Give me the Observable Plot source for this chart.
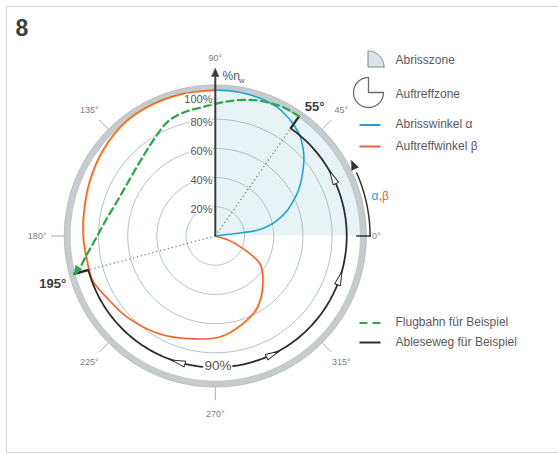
<!DOCTYPE html>
<html><head><meta charset="utf-8">
<script src="https://cdn.jsdelivr.net/npm/d3@7"></script>
<script src="https://cdn.jsdelivr.net/npm/@observablehq/plot@0.6"></script>
<style>
html,body{margin:0;padding:0;background:#fff;overflow:hidden}
#wrap{position:relative;width:558px;height:454px}
#frame{position:absolute;left:6px;top:6px;width:640px;height:445px;border:1px solid #d3d3d3;pointer-events:none}
#chart{position:absolute;left:0;top:0}
</style></head><body><div id="wrap"><div id="frame"></div><div id="chart"></div></div>
<script>
// ---------- data ----------
const figureNumber = "8";
const tickAngles = [0, 45, 90, 135, 180, 225, 270, 315];
const tickLabels = ["0°", "45°", "90°", "135°", "180°", "225°", "270°", "315°"];
const gridPct = [20, 40, 60, 80];
const gridLabelPct = [20, 40, 60, 80, 100];
const gridLabels = ["20%", "40%", "60%", "80%", "100%"];
// Abrisswinkel α : angle (deg) vs %n
const alphaAngle = [0, 7, 7.6, 10.6, 15.8, 20, 24.4, 28, 31.6, 35.6, 39.5, 42.9, 46, 49.1, 53, 56.9, 60.5, 64.2, 68, 72, 75.9, 80, 85, 90];
const alphaPct   = [0, 14, 28.5, 37, 46.4, 53, 58.8, 64, 68.5, 73.5, 78.5, 82.7, 86, 89.2, 92, 94.4, 96.2, 97.8, 98.6, 99.2, 99.5, 99.8, 100, 100];
// Auftreffwinkel β : angle (deg) vs %n
const betaAngle = [345, 343, 336, 328, 315, 300, 287, 273, 258, 241, 223, 211, 200, 192, 180.5, 170, 156, 142, 128, 115, 103, 90];
const betaPct   = [0, 9, 20, 36, 46, 57, 63, 69, 72, 77, 82, 85, 89.5, 89.5, 90.5, 91.5, 94, 97, 99.5, 100, 100, 100];
// Flugbahn (example trajectory), cartesian in % units
const flightX = [57.4, 46.9, 29.1, 12.7, 1.5, -9.9, -21.6, -32.5, -42.1, -50.3, -57.9, -66.1, -74.3, -81.8, -88.7, -94.2, -96.6];
const flightY = [81.9, 88.0, 92.8, 92.8, 90.8, 88.0, 84.6, 78.4, 66.1, 53.1, 40.1, 25.7, 12.0, -1.7, -14.0, -24.3, -25.9];
// Example reading
const exampleN = 90, exampleAlpha = 55, exampleBeta = 195;
const exampleLabels = ["55°", "195°", "90%"];
const axisLabel = "%n", axisSub = "w";
const legendLabels = ["Abrisszone", "Auftreffzone", "Abrisswinkel α", "Auftreffwinkel β", "Flugbahn für Beispiel", "Ableseweg für Beispiel"];
const colors = {alpha: "#1fa3dc", beta: "#ef6237", flight: "#2da84c", path: "#2d2d2d", zone: "#e8f3f5"};

// ---------- geometry helpers ----------
const CX = 214.8, CY = 235.5, K = 1.46;          // pixel centre and px per %
const X = p => (p - CX) / K, Y = p => (CY - p) / K; // pixel -> data units
const rad = d => d * Math.PI / 180;
const pol = (a, p) => ({x: p * Math.cos(rad(a)), y: p * Math.sin(rad(a))});
const arc = (p, a0, a1, n = 160) => d3.range(n + 1).map(i => pol(a0 + (a1 - a0) * i / n, p));
const RING = 101.4;

const alphaData = alphaAngle.map((a, i) => pol(a, alphaPct[i]));
const betaData = betaAngle.map((a, i) => pol(a, betaPct[i]));
const flightData = flightX.map((x, i) => ({x, y: flightY[i]}));

const gridData = gridPct.flatMap(p => arc(p, 0, 360, 180).map(d => ({...d, p})));
const tickSegs = tickAngles.filter(a => a !== 0 && a !== 90).map(a => {
  const s = pol(a, RING + 2), e = pol(a, 112.5);
  return {x1: s.x, y1: s.y, x2: e.x, y2: e.y};
});
const tickText = tickAngles.map((a, i) => a === 0
  ? {...pol(0, 110.2), text: tickLabels[i], anchor: "start"}
  : {...pol(a, 122), text: tickLabels[i], anchor: "middle"});
const gridText = gridLabelPct.map((p, i) => ({x: X(212), y: p === 100 ? p - 6.5 : p - 2, text: gridLabels[i]}));

// reading path
const rightArc = arc(exampleN, exampleAlpha, -82.3, 160);
const leftArc = arc(exampleN, exampleBeta, 264.4, 80);
const radialSegs = [exampleAlpha, exampleBeta].map(a => {
  const s = pol(a, exampleN), e = pol(a, 100.6);
  return {x1: s.x, y1: s.y, x2: e.x, y2: e.y};
});
const dotted = [exampleAlpha, exampleBeta].map(a => { const e = pol(a, exampleN); return {x1: 0, y1: 0, x2: e.x, y2: e.y}; });
const arrowAnglesCCW = [26.6, -18.7, -64];
const arrowAnglesCW = [253.6];
const arcArrows = [
  ...arrowAnglesCCW.map(a => ({...pol(a, exampleN), rot: -a})),
  ...arrowAnglesCW.map(a => ({...pol(a, exampleN), rot: 180 - a}))
];
// flight arrow at the end
const fl = flightData.length;
const fdx = flightData[fl - 1].x - flightData[fl - 3].x, fdy = flightData[fl - 1].y - flightData[fl - 3].y;
const flightHead = [{...flightData[fl - 1], rot: 90 - Math.atan2(fdy, fdx) * 180 / Math.PI}];

// alpha/beta direction arrow
const abR = 106;
const abArc = arc(abR, 0, 24, 40);
const abHead = [{...pol(29, abR + 0.5), rot: -26}];
const zeroTick = (() => { const s = pol(0, 96.5), e = pol(0, abR + 0.6); return [{x1: s.x, y1: s.y, x2: e.x, y2: e.y}]; })();

const openHead = {draw(c, l, r) { c.moveTo(0, -l); c.lineTo(r, 0); c.lineTo(-r, 0); c.closePath(); }};
const solidHead = {draw(c, l, r) { c.moveTo(0, -l); c.lineTo(r, 0); c.lineTo(-r, 0); c.closePath(); }};

// legend geometry (pixel based)
const legX = 395;
const abrIcon = d3.range(0, 91, 3).map(a => ({x: X(368) + 16 / K * Math.cos(rad(a)), y: Y(67) + 16 / K * Math.sin(rad(a)), base: Y(67)}));
const aufC = {x: X(368), y: Y(92)}, aufR = 15 / K;
const aufIcon = [{x: aufC.x, y: aufC.y + aufR}, {x: aufC.x, y: aufC.y},
  ...d3.range(0, -271, -5).map(a => ({x: aufC.x + aufR * Math.cos(rad(a)), y: aufC.y + aufR * Math.sin(rad(a))}))];
const legTextY = [60, 93.5, 123.5, 146, 322, 342];
const legText = legendLabels.map((t, i) => ({x: X(legX), y: Y(legTextY[i]), text: t}));
const legLine = (py) => [{x1: X(359), x2: X(380), y1: Y(py), y2: Y(py)}];

const font = "'Liberation Sans', Arial, Helvetica, sans-serif";

const chart = Plot.plot({
  width: 558, height: 454, margin: 0,
  x: {domain: [X(0), X(558)], axis: null},
  y: {domain: [Y(454), Y(0)], axis: null},
  style: {fontFamily: font, background: "transparent", overflow: "visible"},
  marks: [
    // Abrisszone shading
    Plot.area(arc(RING, 0, 90, 90), {x1: "x", y1: () => 0, y2: "y", fill: colors.zone}),
    // grid circles
    Plot.line(gridData, {x: "x", y: "y", z: "p", stroke: "#a6bbbf", strokeWidth: 0.9}),
    // outer ring
    Plot.line(arc(RING, 0, 360, 240), {x: "x", y: "y", stroke: "#c6cbce", strokeWidth: 6}),
    Plot.line(arc(RING + 2.05, 0, 360, 240), {x: "x", y: "y", stroke: "#a9b0b4", strokeWidth: 0.7}),
    Plot.line(arc(RING - 2.05, 0, 360, 240), {x: "x", y: "y", stroke: "#b4babd", strokeWidth: 0.6}),
    // angle ticks
    Plot.link(tickSegs, {x1: "x1", y1: "y1", x2: "x2", y2: "y2", stroke: "#98a4a8", strokeWidth: 0.9}),
    // dotted guides
    Plot.link(dotted, {x1: "x1", y1: "y1", x2: "x2", y2: "y2", stroke: "#6f7f84", strokeWidth: 1.3, strokeDasharray: "1.2,2.8"}),
    // curves
    Plot.line(betaData, {x: "x", y: "y", stroke: "#f2c447", strokeWidth: 1.2, dx: 0.9, dy: 0.6, curve: "catmull-rom"}),
    Plot.line(betaData, {x: "x", y: "y", stroke: colors.beta, strokeWidth: 1.5, curve: "catmull-rom"}),
    Plot.line(alphaData, {x: "x", y: "y", stroke: colors.alpha, strokeWidth: 1.6, curve: "catmull-rom"}),
    // reading path
    Plot.line(rightArc, {x: "x", y: "y", stroke: colors.path, strokeWidth: 1.8}),
    Plot.line(leftArc, {x: "x", y: "y", stroke: colors.path, strokeWidth: 1.8}),
    Plot.link(radialSegs, {x1: "x1", y1: "y1", x2: "x2", y2: "y2", stroke: colors.path, strokeWidth: 2.4}),
    Plot.vector(arcArrows, {x: "x", y: "y", rotate: "rot", length: 14, r: 3, anchor: "middle", shape: openHead, fill: "white", stroke: colors.path, strokeWidth: 1}),
    // flight path
    Plot.line(flightData, {x: "x", y: "y", stroke: colors.flight, strokeWidth: 2.3, strokeDasharray: "7,4.5", curve: "catmull-rom"}),
    Plot.vector(flightHead, {x: "x", y: "y", rotate: "rot", length: 8, r: 3.6, anchor: "end", shape: solidHead, fill: colors.flight, stroke: colors.flight, strokeWidth: 0.5}),
    // vertical %n axis
    Plot.link([{x1: 0, y1: 0, x2: 0, y2: 110}], {x1: "x1", y1: "y1", x2: "x2", y2: "y2", stroke: "#3a3a3a", strokeWidth: 2}),
    Plot.vector([pol(90, 114.8)], {x: "x", y: "y", rotate: 0, length: 8, r: 3.6, anchor: "end", shape: solidHead, fill: "#3a3a3a", stroke: "#3a3a3a", strokeWidth: 0.5}),
    // alpha, beta direction arrow
    Plot.link(zeroTick, {x1: "x1", y1: "y1", x2: "x2", y2: "y2", stroke: "#333", strokeWidth: 1.5}),
    Plot.line(abArc, {x: "x", y: "y", stroke: "#333", strokeWidth: 1.5}),
    Plot.vector(abHead, {x: "x", y: "y", rotate: "rot", length: 9, r: 3.6, anchor: "end", shape: solidHead, fill: "#333", stroke: "#333", strokeWidth: 0.5}),
    Plot.text([{x: X(374.5), y: Y(196)}], {x: "x", y: "y", text: () => "α", fill: colors.alpha, fontSize: 12}),
    Plot.text([{x: X(379.8), y: Y(196)}], {x: "x", y: "y", text: () => ",", fill: "#777", fontSize: 12}),
    Plot.text([{x: X(385), y: Y(196)}], {x: "x", y: "y", text: () => "β", fill: colors.beta, fontSize: 12}),
    // angle tick labels
    Plot.text(tickText, {x: "x", y: "y", text: "text", textAnchor: "anchor", fontSize: 9, fill: "#808080"}),
    // grid labels
    Plot.text(gridText, {x: "x", y: "y", text: "text", textAnchor: "end", fontSize: 11, fill: "#555", stroke: "white", strokeWidth: 3}),
    // axis labels
    Plot.text([{x: X(222), y: Y(76)}], {x: "x", y: "y", text: () => axisLabel, textAnchor: "start", fontSize: 12, fill: "#555"}),
    Plot.text([{x: X(238.5), y: Y(80)}], {x: "x", y: "y", text: () => axisSub, textAnchor: "start", fontSize: 7.5, fill: "#555"}),
    // example labels
    Plot.text([{...pol(52.5, 111.8), text: exampleLabels[0]}, {...pol(196.3, 116), text: exampleLabels[1]}],
      {x: "x", y: "y", text: "text", fontSize: 13, fontWeight: "bold", fill: "#3c3c3c"}),
    Plot.text([{x: X(217.5), y: Y(365.5), text: exampleLabels[2]}], {x: "x", y: "y", text: "text", fontSize: 13.5, fill: "#555", stroke: "white", strokeWidth: 2}),
    // figure number
    Plot.text([{x: X(15), y: Y(28.5)}], {x: "x", y: "y", text: () => figureNumber, textAnchor: "start", fontSize: 23, fontWeight: "bold", fill: "#3f3f3f"}),
    // legend
    Plot.area(abrIcon, {x1: "x", y1: "base", y2: "y", fill: "#d6e5e7", stroke: "#858585", strokeWidth: 1}),
    Plot.line(aufIcon, {x: "x", y: "y", stroke: "#6a6a6a", strokeWidth: 1.3}),
    Plot.link(legLine(124.5), {x1: "x1", y1: "y1", x2: "x2", y2: "y2", stroke: colors.alpha, strokeWidth: 2}),
    Plot.link(legLine(146), {x1: "x1", y1: "y1", x2: "x2", y2: "y2", stroke: colors.beta, strokeWidth: 2}),
    Plot.link(legLine(322.5), {x1: "x1", y1: "y1", x2: "x2", y2: "y2", stroke: colors.flight, strokeWidth: 2.2, strokeDasharray: "8,5"}),
    Plot.link(legLine(342), {x1: "x1", y1: "y1", x2: "x2", y2: "y2", stroke: colors.path, strokeWidth: 2}),
    Plot.text(legText, {x: "x", y: "y", text: "text", textAnchor: "start", fontSize: 12, fill: "#5a5a5a"})
  ]
});
document.getElementById("chart").appendChild(chart);
</script>
</body></html>
